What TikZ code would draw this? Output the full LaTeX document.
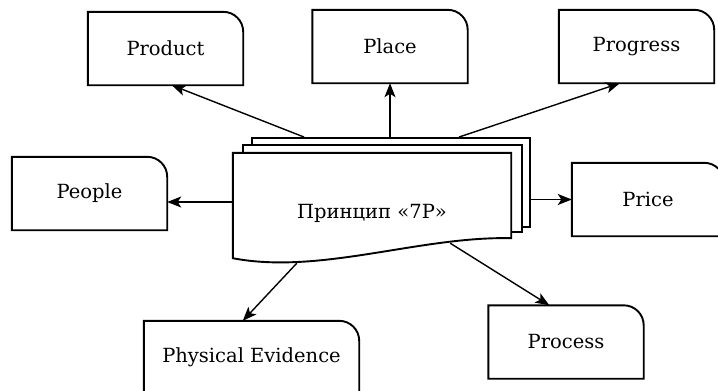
\documentclass[tikz,border=0pt]{standalone}
\usepackage{fontspec}
\setmainfont{DejaVu Serif}
\newfontfamily\labelfont{DejaVu Serif}
\usetikzlibrary{arrows.meta}
\tikzset{
    mix diagram/.style = {x=1pt, y=-1pt,
                          >={Stealth[length=14pt, width=11pt, inset=3.5pt]}},
    outline/.style     = {line width=1.9pt, line join=miter},
    link/.style        = {->, line width=1.4pt},
    sheet/.style       = {outline, draw, fill=white, inner sep=0pt},
    caption/.style     = {font=\labelfont\fontsize{19.5}{23}\selectfont},
    tag/.style         = {caption, inner sep=0pt,
                          minimum width=155pt, minimum height=73pt},
    wide tag/.style    = {tag, minimum width=215pt}
}

\begin{document}
\begin{tikzpicture}[mix diagram]
\useasboundingbox (0,0) rectangle (718,391);

% ================= Stack of sheets =================
\node[sheet, minimum width=278pt, minimum height=89pt] (sheet3) at (391, 182.5) {};
\node[sheet, minimum width=279pt, minimum height=87pt] (sheet2) at (382.5, 188.5) {};
\node[inner sep=0pt, minimum width=278pt, minimum height=110pt] (doc) at (372, 208) {};
\draw[outline, fill=white] (doc.north west) -- (doc.north east)
    -- ([yshift=25pt]doc.south east) .. controls (420, 236) and (320, 275) ..
    ([yshift=5pt]doc.south west) -- cycle;
\node[caption] (title) at (372, 213) {Принцип «7P»};

% ================= The seven P =================
\node[tag] (product)  at (165.5, 48.5) {Product};
\node[tag] (place)    at (390, 46.5)   {Place};
\node[tag] (progress) at (636.5, 46.5) {Progress};
\node[tag] (people)   at (89.5, 193.5) {People};
\node[tag, minimum width=152pt] (price) at (648, 199.5) {Price};
\node[wide tag] (evidence) at (251.5, 357.5) {Physical Evidence};
\node[tag] (process)  at (566, 342)    {Process};

\foreach \n in {product,place,progress,people,price,evidence,process}
    \draw[outline] (\n.south west) -- (\n.north west)
        -- ([xshift=-20pt]\n.north east) arc[start angle=90, end angle=0, radius=20pt]
        -- (\n.south east) -- cycle;

% ================= Arrows out of the stack =================
\draw[link] ([xshift=53pt]sheet3.north west) -- ([xshift=84pt]product.south west);
\draw[link] (sheet3.north -| place.south) -- (place.south);
\draw[link] ([xshift=208pt]sheet3.north west) -- ([xshift=61pt]progress.south west);
\draw[link] ([yshift=6pt]doc.west) -- ([yshift=-8.5pt]people.east);
\draw[link] (price.west -| sheet3.east) -- (price.west);
\draw[link] ([xshift=64pt]doc.south west) -- ([xshift=99pt]evidence.north west);
\draw[link] ([shift={(-61pt,20pt)}]doc.south east) -- ([xshift=61pt]process.north west);

\end{tikzpicture}
\end{document}
